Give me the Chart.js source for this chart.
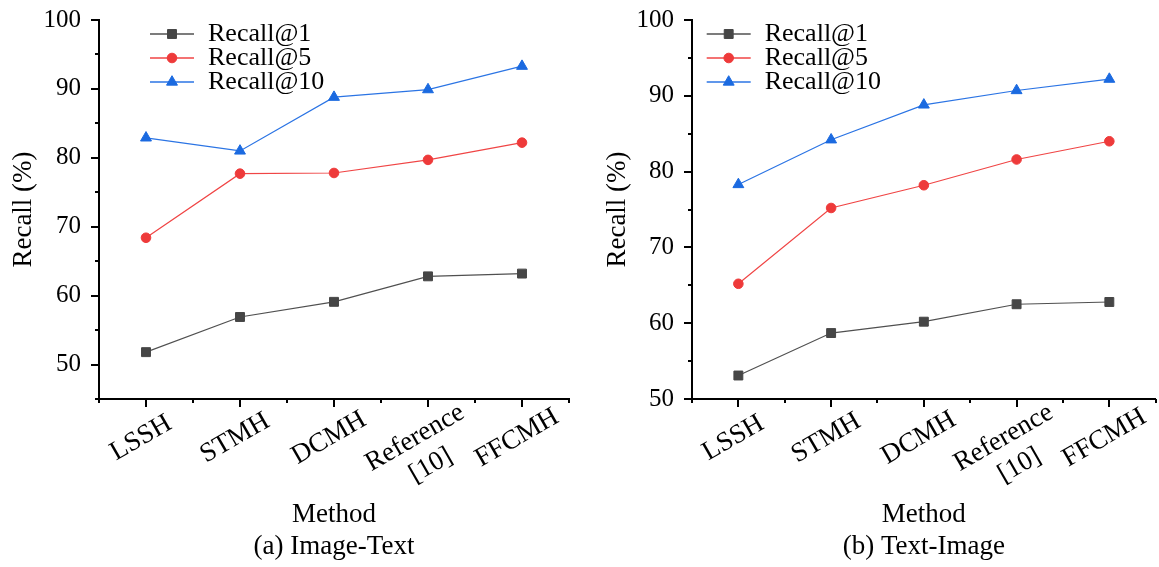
<!DOCTYPE html>
<html>
<head>
<meta charset="utf-8">
<script src="https://cdn.jsdelivr.net/npm/chart.js@4.4.1/dist/chart.umd.min.js"></script>
<style>
    html, body { margin: 0; padding: 0; background: #fff; overflow: hidden; }
    #wrap { position: relative; width: 1159px; height: 567px; overflow: hidden; }
    canvas { position: absolute; top: 0; }
    #imageTextChart { left: 0; }
    #textImageChart { left: 580px; }
</style>
</head>
<body>
<div id="wrap">
    <canvas id="imageTextChart" width="580" height="567"></canvas>
    <canvas id="textImageChart" width="583" height="567"></canvas>
</div>
<script>
const methods = ["LSSH", "STMH", "DCMH", ["Reference", "[10]"], "FFCMH"];
const seriesNames = ["Recall@1", "Recall@5", "Recall@10"];

// (a) Image-Text
const imageTextRecall1 = [51.8, 56.9, 59.1, 62.8, 63.2];
const imageTextRecall5 = [68.4, 77.7, 77.8, 79.7, 82.2];
const imageTextRecall10 = [82.9, 81.0, 88.8, 89.9, 93.3];

// (b) Text-Image
const textImageRecall1 = [53.1, 58.7, 60.2, 62.5, 62.8];
const textImageRecall5 = [65.2, 75.2, 78.2, 81.6, 84.0];
const textImageRecall10 = [78.3, 84.2, 88.8, 90.7, 92.2];

const yTickLabels = [50, 60, 70, 80, 90, 100];

const SERIF = "'Liberation Serif', 'Times New Roman', serif";

const seriesStyle = [
    { line: "#505050", point: "#464646", pointStyle: "rect", radius: 6.3 },
    { line: "#f04545", point: "#ee3a3a", pointStyle: "circle", radius: 4.8 },
    { line: "#2b74e4", point: "#1b6ae0", pointStyle: "triangle", radius: 6.3 },
];

Chart.defaults.font.family = SERIF;
Chart.defaults.color = "#000";

// major and minor tick marks, pointing out of the plot
const axisMarks = {
    id: "axisMarks",
    afterDraw(chart) {
        const { ctx, chartArea, scales: { x, y } } = chart;
        const count = chart.data.labels.length;

        ctx.save();
        ctx.strokeStyle = "#000";
        ctx.lineWidth = 2;
        ctx.beginPath();

        for (let v = y.min; v <= y.max; v += 5) {
            const py = Math.round(y.getPixelForValue(v));
            const len = yTickLabels.includes(v) ? 8 : 4;
            ctx.moveTo(chartArea.left, py);
            ctx.lineTo(chartArea.left - len, py);
        }

        for (let i = 0; i < count; i++) {
            const px = Math.round(x.getPixelForValue(i));
            ctx.moveTo(px, chartArea.bottom);
            ctx.lineTo(px, chartArea.bottom + 8);
        }
        for (let i = 0; i <= count; i++) {
            const px = Math.round(x.getPixelForValue(i - 0.5));
            ctx.moveTo(px, chartArea.bottom);
            ctx.lineTo(px, chartArea.bottom + 4);
        }

        ctx.stroke();
        ctx.restore();
    },
};

// rotated category labels, centred under each tick
const methodLabels = {
    id: "methodLabels",
    afterDraw(chart, args, opts) {
        const { ctx, chartArea, scales: { x } } = chart;

        ctx.save();
        ctx.font = `27px ${SERIF}`;
        ctx.fillStyle = "#000";
        ctx.textAlign = "center";
        ctx.textBaseline = "middle";

        chart.data.labels.forEach((label, i) => {
            const lines = [].concat(label);
            const shift = (lines.length - 1) * opts.multiLineShift;
            ctx.save();
            ctx.translate(x.getPixelForValue(i) + opts.dx - shift, chartArea.bottom + opts.dy);
            ctx.rotate((-30 * Math.PI) / 180);
            lines.forEach((line, j) => ctx.fillText(line, 0, j * opts.lineHeight));
            ctx.restore();
        });

        ctx.restore();
    },
};

// legend with line + marker, drawn inside the plot area
const insideLegend = {
    id: "insideLegend",
    afterDraw(chart, args, opts) {
        const { ctx, chartArea } = chart;

        ctx.save();
        ctx.font = `26px ${SERIF}`;
        ctx.textAlign = "left";
        ctx.textBaseline = "middle";

        chart.data.datasets.forEach((ds, i) => {
            const y = chartArea.top + opts.top + i * opts.rowHeight;
            const x0 = opts.left;

            ctx.strokeStyle = ds.borderColor;
            ctx.lineWidth = 1.5;
            ctx.beginPath();
            ctx.moveTo(x0, y);
            ctx.lineTo(x0 + 44, y);
            ctx.stroke();

            ctx.fillStyle = ds.pointBackgroundColor;
            ctx.strokeStyle = ds.pointBorderColor;
            ctx.lineWidth = 1;
            Chart.helpers.drawPoint(ctx, {
                pointStyle: ds.pointStyle,
                radius: ds.pointRadius,
                rotation: 0,
                borderWidth: 1,
            }, x0 + 22, y);

            ctx.fillStyle = "#000";
            ctx.fillText(ds.label, x0 + 58, y);
        });

        ctx.restore();
    },
};

function createChart(elementId, cfg) {
    const canvas = document.getElementById(elementId);

    if (!canvas || typeof Chart === "undefined") {
        return;
    }

    new Chart(canvas.getContext("2d"), {
        type: "line",

        data: {
            labels: methods,

            datasets: cfg.series.map((values, i) => ({
                label: seriesNames[i],
                data: values,
                borderColor: seriesStyle[i].line,
                borderWidth: 1.2,
                pointStyle: seriesStyle[i].pointStyle,
                pointRadius: seriesStyle[i].radius,
                pointBackgroundColor: seriesStyle[i].point,
                pointBorderColor: seriesStyle[i].point,
                pointBorderWidth: 1,
                tension: 0,
            })),
        },

        options: {
            responsive: false,
            animation: false,
            events: [],

            layout: {
                padding: { top: 20, right: cfg.padRight, left: 0, bottom: 0 },
            },

            scales: {
                x: {
                    type: "category",
                    offset: true,
                    grid: { display: false },
                    border: { display: true, color: "#000", width: 2 },
                    ticks: { display: false },
                    title: {
                        display: true,
                        text: "Method",
                        font: { size: 27 },
                        padding: { top: 0, bottom: 0 },
                    },
                    afterFit(scale) {
                        scale.height = 131.8;
                    },
                },
                y: {
                    min: cfg.yMin,
                    max: 100,
                    // tick marks come from axisMarks; tickLength only spaces the labels
                    grid: { display: false, drawTicks: true, tickLength: 18 },
                    border: { display: true, color: "#000", width: 2 },
                    afterBuildTicks(scale) {
                        scale.ticks = yTickLabels.map((v) => ({ value: v }));
                    },
                    ticks: {
                        font: { size: 25 },
                        padding: 0,
                    },
                    title: {
                        display: true,
                        text: "Recall (%)",
                        font: { size: 27 },
                        padding: { top: cfg.yTitlePad, bottom: 0 },
                    },
                    afterFit(scale) {
                        scale.width = cfg.yAxisWidth;
                    },
                },
            },

            plugins: {
                legend: { display: false },
                tooltip: { enabled: false },
                title: {
                    display: true,
                    position: "bottom",
                    fullSize: false,
                    text: cfg.caption,
                    font: { size: 27, weight: "normal" },
                    padding: { top: 0, bottom: 3.8 },
                },
                insideLegend: { left: cfg.legendLeft, top: 14, rowHeight: 24 },
                methodLabels: { dx: -5, dy: 39, lineHeight: 32, multiLineShift: 8 },
            },
        },

        plugins: [axisMarks, methodLabels, insideLegend],
    });
}

createChart("imageTextChart", {
    series: [imageTextRecall1, imageTextRecall5, imageTextRecall10],
    yMin: 45,
    yAxisWidth: 99,
    yTitlePad: 7.8,
    padRight: 11,
    legendLeft: 150,
    caption: "(a) Image-Text",
});

createChart("textImageChart", {
    series: [textImageRecall1, textImageRecall5, textImageRecall10],
    yMin: 50,
    yAxisWidth: 112,
    yTitlePad: 21.8,
    padRight: 1,
    legendLeft: 126.7,
    caption: "(b) Text-Image",
});
</script>
</body>
</html>
